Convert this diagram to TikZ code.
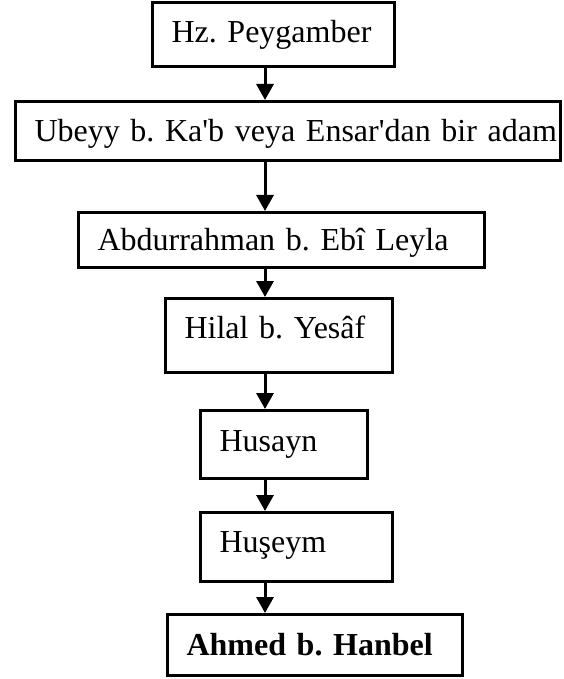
\documentclass[tikz,border=0pt]{standalone}
\usepackage{fontspec}
\setmainfont{Liberation Serif}
\usetikzlibrary{arrows.meta}

\tikzset{
  kutu/.style={draw, line width=1.5pt, inner xsep=9.6pt, inner ysep=0pt,
    align=left, text height=10.6pt, text depth=0pt,
    font=\fontsize{16}{19}\selectfont\frenchspacing},
  ok/.style={line width=1.5pt, -{Triangle[width=8.5pt,length=8pt]}}
}

\begin{document}
\begin{tikzpicture}[x=0.5pt,y=-0.5pt]
    \useasboundingbox (0,0) rectangle (563,679);

    % Kutular
    \node[kutu, minimum width=121pt, minimum height=32pt, text width=102pt, text depth=2.5pt]
        (peygamber) at (273.5,34.5) {\mbox{Hz. Peygamber}};
    \node[kutu, minimum width=272.5pt, minimum height=29.5pt, text width=253.5pt]
        (ubeyy) at (288,131) {\mbox{Ubeyy b. Ka\textquotesingle b veya Ensar\textquotesingle dan bir adam}};
    \node[kutu, minimum width=203pt, minimum height=27.5pt, text width=184pt]
        (abdurrahman) at (281.5,240) {\mbox{Abdurrahman b. Ebî Leyla}};
    \node[kutu, minimum width=113.5pt, minimum height=37pt, text width=94.5pt, text depth=8pt]
        (hilal) at (279,335.5) {\mbox{Hilal b. Yesâf}};
    \node[kutu, minimum width=83.5pt, minimum height=34pt, text width=64.5pt, text depth=3.5pt]
        (husayn) at (284,444.5) {\mbox{Husayn}};
    \node[kutu, minimum width=96pt, minimum height=34.5pt, text width=77pt, text depth=5pt]
        (huseym) at (296.5,547) {\mbox{Huşeym}};
    \node[kutu, minimum width=147.5pt, minimum height=30.5pt, text width=128.5pt]
        (ahmed) at (315,645) {\mbox{\textbf{Ahmed b. Hanbel}}};

    % Oklar
    \coordinate (omurga) at (265,0);
    \draw[ok] (peygamber.south -| omurga) -- (ubeyy.north -| omurga);
    \draw[ok] (ubeyy.south -| omurga) -- (abdurrahman.north -| omurga);
    \draw[ok] (abdurrahman.south -| omurga) -- (hilal.north -| omurga);
    \draw[ok] (hilal.south -| omurga) -- (husayn.north -| omurga);
    \draw[ok] (husayn.south -| omurga) -- (huseym.north -| omurga);
    \draw[ok] (huseym.south -| omurga) -- (ahmed.north -| omurga);
\end{tikzpicture}
\end{document}
